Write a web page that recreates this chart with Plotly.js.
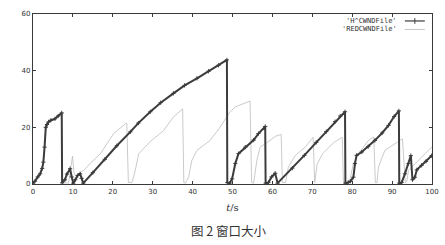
<!DOCTYPE html>
<html><head><meta charset="utf-8">
<script src="https://cdn.plot.ly/plotly-3.0.1.min.js"></script>
<style>html,body{margin:0;padding:0;background:#fff}#c{width:445px;height:245px}</style>
</head><body><div id="c"></div>
<script>
// H^CWNDFile series (dark)
const hX = [0, 0.5, 1.2, 1.8, 2.3, 2.6, 2.9, 3.2, 3.5, 3.9, 4.5, 5.5, 6.3, 7.2, 7.3, 8.0, 8.5, 9.3, 9.7, 10.1, 10.6, 11.2, 11.8, 12.2, 12.6, 15, 18, 21, 24.4, 26.4, 29.4, 32, 35.2, 38, 41.1, 44, 46.5, 48.6, 48.7, 49.3, 49.9, 50.7, 51.5, 53.2, 55.3, 56.5, 58.2, 58.3, 59.0, 59.8, 60.7, 61.3, 65, 68, 71, 73.5, 75.7, 77, 78.2, 78.3, 79.0, 79.6, 80.3, 80.7, 81.1, 82.4, 84, 85.7, 87.5, 89.1, 90.5, 91.7, 91.8, 92.4, 93.2, 94.1, 94.7, 95.1, 95.7, 96.2, 97.4, 98.5, 99.9];
const hY = [0.3, 1, 2.5, 3.6, 5.5, 7.7, 13, 20, 21, 21.9, 22.5, 23, 24, 25.1, 0.4, 1.5, 3.5, 5.4, 2.5, 0.3, 1.5, 3, 3.6, 2, 0.3, 4, 8.7, 13.5, 18.4, 21.5, 25.5, 28.7, 32, 34.8, 37.3, 39.8, 41.9, 43.8, 0.5, 0.3, 1.8, 7.2, 10.7, 13, 15.5, 17.8, 20.3, 0.3, 0.5, 2.5, 3.8, 0.3, 5.6, 10.1, 14.7, 18.5, 22, 24, 25.5, 0.3, 0.5, 1, 2.4, 7.2, 10.1, 11.3, 13.2, 15.4, 18, 20.7, 23.8, 25.8, 0.3, 0.5, 3.6, 7.2, 10, 1.5, 2.4, 5, 6.6, 8, 10];
// REDCWNDFile series (light)
const rX = [0, 1.8, 2.6, 3.2, 3.9, 5.5, 7.2, 7.3, 8.9, 9.5, 9.9, 10.3, 10.7, 12.7, 14.5, 16.9, 20.2, 23.2, 23.5, 23.9, 24.8, 25.5, 26.5, 29.4, 32.7, 35.2, 37.5, 37.8, 38.2, 39, 39.8, 41.1, 44.4, 46.9, 48.2, 49.4, 50.7, 53.6, 54.4, 54.8, 55.3, 56.1, 56.9, 59.4, 60.7, 62.2, 62.5, 63.3, 64, 65.7, 68.2, 70.2, 70.6, 71.2, 72.6, 75.5, 76.9, 77.5, 77.8, 78.5, 79.5, 80.3, 81.6, 82.8, 84.1, 85.4, 85.8, 86.2, 86.6, 87.2, 88.2, 90.5, 92.6, 93.3, 93.7, 94.1, 95.7, 97.4, 99.5, 100];
const rY = [0, 3.6, 7.7, 20, 21.9, 23, 25.1, 0.5, 0.3, 7, 9.8, 3.5, 3, 4.8, 7.5, 10.7, 17.8, 21.3, 21.5, 0.5, 0.6, 4, 10.7, 15, 18.8, 23.7, 26.5, 0.5, 0.3, 2.4, 8.3, 11.9, 15.4, 20.1, 23, 25.5, 27.2, 29, 29.3, 0.5, 0.3, 8.3, 13, 15.4, 16.8, 17.5, 0.5, 0.5, 6, 10, 13, 16.5, 0.5, 7, 10.7, 14.8, 16.2, 16.5, 0.5, 0.5, 2, 7.2, 10.7, 13, 15.4, 16.6, 0.5, 0.5, 6, 8.3, 11.9, 14, 16, 0.5, 1, 4.8, 7.2, 9.5, 12.5, 13];
const seriesNames = ["'H^CWNDFile'", "'REDCWNDFile'"];
const xTicks = [0, 10, 20, 30, 40, 50, 60, 70, 80, 90, 100];
const yTicks = [0, 20, 40, 60];
const xTitle = "<i>t</i>/s";
const caption = "图 2 窗口大小";

const dark = '#3c3c3c', light = '#bdbdbd', frame = '#3a3a3a';
const traces = [
  {x: rX, y: rY, mode: 'lines', line: {color: light, width: 0.8}, name: seriesNames[1], hoverinfo: 'skip'},
  {x: hX, y: hY, mode: 'lines+markers', line: {color: dark, width: 2}, marker: {symbol: 'cross-thin-open', size: 3, color: dark, line: {color: dark, width: 1}}, name: seriesNames[0], hoverinfo: 'skip'}
];
const axBase = {showline: true, mirror: 'ticks', ticks: 'inside', ticklen: 3, tickwidth: 1, tickcolor: frame, linecolor: frame, linewidth: 1.2, showgrid: false, zeroline: false, tickfont: {family: 'DejaVu Sans', size: 7, color: '#333'}};
const layout = {
  width: 445, height: 245,
  margin: {l: 33, r: 13, t: 14, b: 61},
  paper_bgcolor: '#fff', plot_bgcolor: '#fff',
  showlegend: false,
  xaxis: Object.assign({}, axBase, {range: [0, 100], tickvals: xTicks, ticktext: xTicks.map(String),
    title: {text: xTitle, font: {family: 'DejaVu Serif', size: 10, color: '#333'}, standoff: 9}}),
  yaxis: Object.assign({}, axBase, {range: [0, 60], tickvals: yTicks, ticktext: yTicks.map(String)}),
  annotations: [
    {xref: 'paper', yref: 'paper', x: 0.918, y: 0.959, xanchor: 'right', yanchor: 'middle', text: seriesNames[0], showarrow: false, font: {family: 'DejaVu Sans Mono', size: 7, color: '#333'}},
    {xref: 'paper', yref: 'paper', x: 0.918, y: 0.909, xanchor: 'right', yanchor: 'middle', text: seriesNames[1], showarrow: false, font: {family: 'DejaVu Sans Mono', size: 7, color: '#333'}},
    {xref: 'paper', yref: 'paper', x: 0.49, y: -0.276, xanchor: 'center', yanchor: 'middle', text: caption, showarrow: false, font: {family: 'Noto Sans CJK SC', size: 12.5, color: '#333'}}
  ],
  shapes: [
    {type: 'line', xref: 'paper', yref: 'paper', x0: 0.932, x1: 0.982, y0: 0.959, y1: 0.959, line: {color: dark, width: 1.2}},
    {type: 'line', xref: 'paper', yref: 'paper', x0: 0.957, x1: 0.957, y0: 0.942, y1: 0.976, line: {color: dark, width: 1}},
    {type: 'line', xref: 'paper', yref: 'paper', x0: 0.932, x1: 0.982, y0: 0.909, y1: 0.909, line: {color: light, width: 0.9}}
  ]
};
Plotly.newPlot('c', traces, layout, {staticPlot: true, displayModeBar: false});
</script></body></html>
